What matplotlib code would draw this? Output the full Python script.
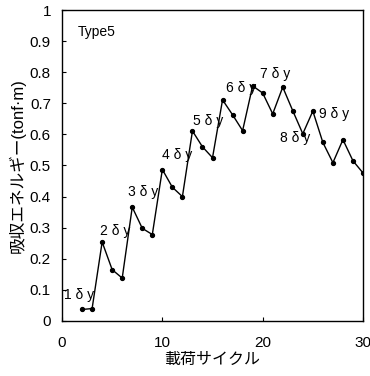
import matplotlib
matplotlib.use("Agg")
import matplotlib.pyplot as plt

plt.rcParams['font.family'] = ['Liberation Sans', 'Noto Sans CJK JP', 'DejaVu Sans']

# load cycle vs absorbed energy
cycle = [2, 3, 4, 5, 6, 7, 8, 9, 10, 11, 12, 13, 14, 15, 16,
         17, 18, 19, 20, 21, 22, 23, 24, 25, 26, 27, 28, 29, 30]
energy = [0.037, 0.040, 0.254, 0.165, 0.138, 0.366, 0.298, 0.278, 0.487, 0.430,
          0.400, 0.611, 0.560, 0.525, 0.711, 0.663, 0.612, 0.756, 0.733, 0.666,
          0.752, 0.676, 0.602, 0.675, 0.574, 0.509, 0.583, 0.515, 0.476]

# amplitude labels: text, x, y (data coords)
labels = ["1 δ y", "2 δ y", "3 δ y", "4 δ y", "5 δ y",
          "6 δ y", "7 δ y", "8 δ y", "9 δ y"]
label_x = [0.2, 3.8, 6.6, 10.0, 13.1, 16.3, 19.7, 21.7, 25.6]
label_y = [0.083, 0.290, 0.415, 0.534, 0.644, 0.748, 0.794, 0.590, 0.666]

yticks = [0, 0.1, 0.2, 0.3, 0.4, 0.5, 0.6, 0.7, 0.8, 0.9, 1]
ytick_labels = ["0", "0.1", "0.2", "0.3", "0.4", "0.5", "0.6", "0.7", "0.8", "0.9", "1"]
xticks = [0, 10, 20, 30]

fig = plt.figure(figsize=(3.70, 3.76), dpi=100)
ax = fig.add_axes([0.1676, 0.1463, 0.8135, 0.8271])

ax.plot(cycle, energy, color="black", lw=1.0, marker="o", ms=2.8)

for t, x, y in zip(labels, label_x, label_y):
    ax.text(x, y, t, fontsize=10, ha="left", va="center")

ax.text(1.6, 0.93, "Type5", fontsize=10, ha="left", va="center")

ax.set_xlim(0, 30)
ax.set_ylim(0, 1)
ax.set_xticks(xticks)
ax.set_xticklabels([str(v) for v in xticks])
ax.set_yticks(yticks)
ax.set_yticklabels(ytick_labels)
ax.tick_params(direction="in", length=3, labelsize=11)
ax.tick_params(axis="x", pad=11)
ax.tick_params(axis="y", pad=8)

ax.set_xlabel("載荷サイクル", fontsize=11.5, labelpad=1)
ax.set_ylabel("吸収エネルギー(tonf·m)", fontsize=12, labelpad=3)

for s in ax.spines.values():
    s.set_linewidth(1.0)

fig.savefig("out.png", dpi=100)
